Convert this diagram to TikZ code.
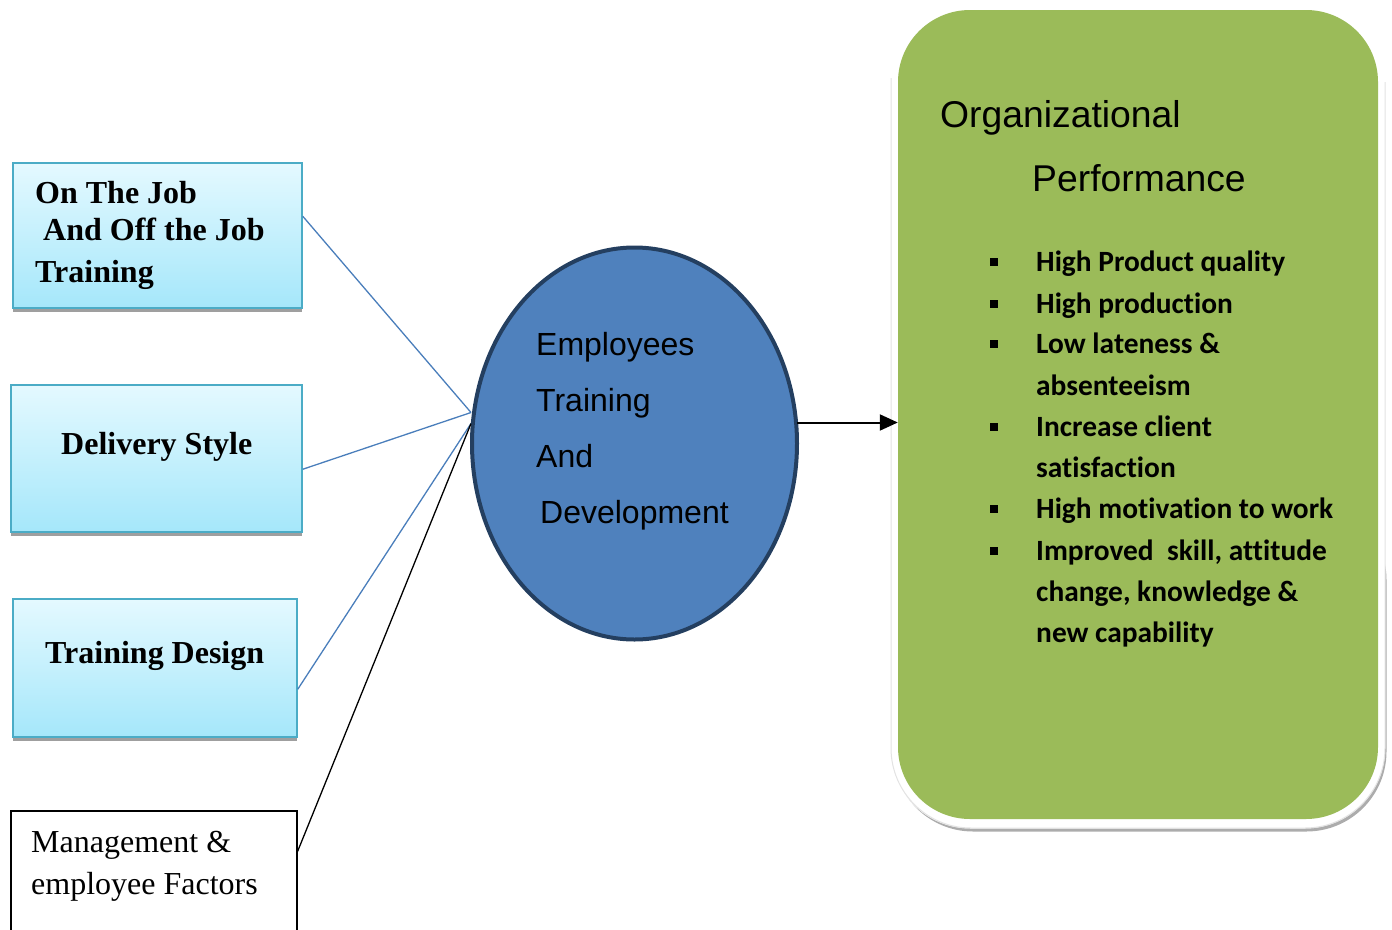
\documentclass[tikz,border=0pt]{standalone}
\usepackage{fontspec}
\setmainfont{Liberation Serif}
\newfontfamily\arialfont{Liberation Sans}
\newfontfamily\calibrifont[Ligatures=NoCommon]{Carlito}
\usetikzlibrary{shapes.geometric,arrows.meta,calc,shadows}

\definecolor{boxtop}{HTML}{E4F9FF}
\definecolor{boxbottom}{HTML}{A5E7FA}
\definecolor{boxedge}{HTML}{4BACC6}
\definecolor{ellfill}{HTML}{4F81BD}
\definecolor{elledge}{HTML}{243F60}
\definecolor{perfgreen}{HTML}{9BBB59}
\definecolor{linkblue}{HTML}{4A7EBB}

\begin{document}
\begin{tikzpicture}[x=1pt,y=-1pt,
  cyanbox/.style={rectangle, draw=boxedge, line width=1.5pt, top color=boxtop,
    bottom color=boxbottom, inner sep=0pt,
    general shadow={fill=gray!75, shadow yshift=-3.5pt}},
  plainbox/.style={rectangle, draw=black, line width=1.2pt, fill=white, inner sep=0pt},
  boxtxt/.style={font=\fontsize{32}{38}\selectfont\bfseries, anchor=base west, inner sep=0pt},
  plaintxt/.style={font=\fontsize{32}{38}\selectfont, anchor=base west, inner sep=0pt},
  elltxt/.style={font=\arialfont\fontsize{32}{38}\selectfont, anchor=base west, inner sep=0pt},
  titletxt/.style={font=\arialfont\fontsize{37.3}{44}\selectfont, anchor=base west, inner sep=0pt},
  itemtxt/.style={font=\calibrifont\bfseries\fontsize{29.4}{35}\selectfont, anchor=base west, inner sep=0pt},
  sqbullet/.style={rectangle, fill=black, minimum size=7.5pt, inner sep=0pt},
  link/.style={draw=linkblue, line width=1.3pt},
  blacklink/.style={draw=black, line width=1.3pt},
  flow/.style={draw=black, line width=2pt, -{Triangle[length=18pt,width=16pt]}}
]
\useasboundingbox (0,0) rectangle (1392,929);
\clip (0,0) rectangle (1392,929);

% ---- factor boxes on the left ----
\node[cyanbox, minimum width=289, minimum height=145] (b1) at (157.5,235.5) {};
\node[cyanbox, minimum width=291, minimum height=147] (b2) at (156.5,458.5) {};
\node[cyanbox, minimum width=284, minimum height=138] (b3) at (155,668) {};
\node[plainbox, minimum width=286, minimum height=150] (b4) at (154,886) {};

\node[boxtxt] (t1a) at (35,203) {On The Job};
\node[boxtxt] (t1b) at (43,240) {And Off the Job};
\node[boxtxt] (t1c) at (35,282) {Training};
\node[boxtxt] (t2) at (61,454) {Delivery Style};
\node[boxtxt] (t3) at (45,663) {Training Design};
\node[plaintxt] (t4a) at (31,852) {Management \&};
\node[plaintxt] (t4b) at (31,894) {employee Factors};

% ---- central ellipse ----
\node[ellipse, draw=elledge, line width=4pt, fill=ellfill, minimum width=325,
  minimum height=392, inner sep=0pt] (emp) at (634.5,443.5) {};
\node[elltxt] (e1t) at (536,355) {Employees};
\node[elltxt] (e2t) at (536,411) {Training};
\node[elltxt] (e3t) at (536,467) {And};
\node[elltxt] (e4t) at (540,523) {Development};

% ---- outcome panel: white frame with shadow, then the green box ----
\fill[gray!65, rounded corners=80] (893,500) rectangle (1386.5,831.5);
\fill[white, rounded corners=80] (890.5,0) rectangle (1385,828.5);
\draw[gray!22, line width=1pt, rounded corners=80]
  (891,78) -- (891,828) -- (1385,828) -- (1385,82);
\node[rectangle, rounded corners=72, fill=perfgreen, minimum width=480,
  minimum height=809, inner sep=0pt] (ob) at (1138,414.5) {};

\node[titletxt] (ot1) at (940,127) {Organizational};
\node[titletxt] (ot2) at (1032,191) {Performance};

\node[sqbullet] (s1) at (994,262) {};
\node[sqbullet] (s2) at (994,304) {};
\node[sqbullet] (s3) at (994,344) {};
\node[sqbullet] (s4) at (994,427) {};
\node[sqbullet] (s5) at (994,509) {};
\node[sqbullet] (s6) at (994,551) {};

\node[itemtxt] (i1) at (1036,271) {High Product quality};
\node[itemtxt] (i2) at (1036,313) {High production};
\node[itemtxt] (i3) at (1036,353) {Low lateness \&};
\node[itemtxt] (i3b) at (1036,395) {absenteeism};
\node[itemtxt] (i4) at (1036,436) {Increase client};
\node[itemtxt] (i4b) at (1036,477) {satisfaction};
\node[itemtxt] (i5) at (1036,518) {High motivation to work};
\node[itemtxt] (i6) at (1036,560) {Improved\ \ skill, attitude};
\node[itemtxt] (i6b) at (1036,601) {change, knowledge \&};
\node[itemtxt] (i6c) at (1036,642) {new capability};

% ---- connectors ----
\coordinate (b1c) at ($(b1.north east)+(0,54)$);
\coordinate (b2c) at ($(b2.north east)+(0,85)$);
\coordinate (b3c) at ($(b3.north east)+(0,91)$);
\coordinate (b4c) at ($(b4.north east)+(0,41)$);
\coordinate (ea) at ($(emp.west)+(1,-31)$);
\coordinate (eb) at ($(emp.west)+(1,-20)$);
\coordinate (ec) at ($(emp.east)+(-2,-21)$);

\draw[link] (b1c) -- (ea);
\draw[link] (b2c) -- (ea);
\draw[link] (b3c) -- (eb);
\draw[blacklink] (b4c) -- (eb);
\draw[flow] (ec) -- (ec -| ob.west);
\end{tikzpicture}
\end{document}
